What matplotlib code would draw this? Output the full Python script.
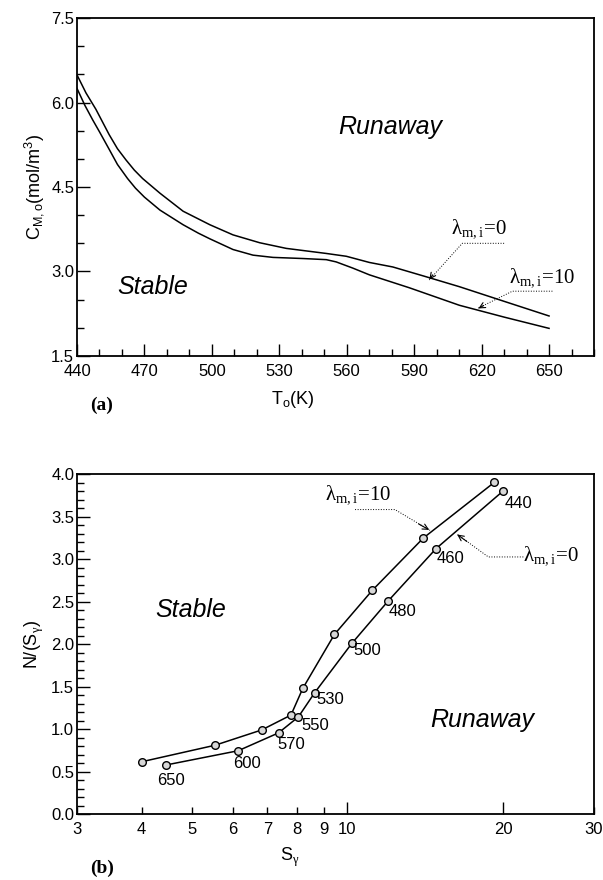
import matplotlib
matplotlib.use('Agg')
import matplotlib.pyplot as plt
import numpy as np
from matplotlib.ticker import MultipleLocator, FixedLocator, NullLocator, FormatStrFormatter

plt.rcParams['font.family'] = ['Liberation Sans', 'DejaVu Sans']
plt.rcParams['mathtext.fontset'] = 'custom'
plt.rcParams['mathtext.rm'] = 'Liberation Sans'
plt.rcParams['mathtext.it'] = 'Liberation Sans:italic'
plt.rcParams['mathtext.bf'] = 'Liberation Sans:bold'
plt.rcParams['mathtext.sf'] = 'Liberation Serif'
plt.rcParams['mathtext.default'] = 'rm'

# (a) critical monomer concentration vs feed temperature
T_lam0 = [440, 444, 448.4, 454.3, 458, 461.8, 465.5, 469.2, 476.9, 487.2, 499.1,
          509.4, 521.3, 533.1, 550.9, 559.8, 570.1, 580.5, 595, 610.1, 630, 650]
C_lam0 = [6.49, 6.17, 5.88, 5.43, 5.18, 4.98, 4.80, 4.65, 4.39, 4.07, 3.83,
          3.65, 3.51, 3.41, 3.32, 3.27, 3.16, 3.08, 2.91, 2.73, 2.47, 2.21]
T_lam10 = [440, 443.5, 447, 450, 454.3, 458, 462.5, 466, 470, 476.9, 487.2, 494,
           499.1, 509.4, 518.3, 527.2, 540.5, 550.9, 555.3, 562.7, 570.1,
           587.9, 610.1, 630, 650]
C_lam10 = [6.25, 5.95, 5.69, 5.48, 5.17, 4.90, 4.65, 4.48, 4.32, 4.09, 3.83, 3.68,
           3.58, 3.39, 3.29, 3.25, 3.23, 3.21, 3.17, 3.06, 2.94,
           2.71, 2.40, 2.19, 1.99]

# (b) N/(S_gamma) vs S_gamma
S_lam10 = [4.0, 5.55, 6.83, 7.78, 8.2, 9.44, 11.18, 14.03, 19.25]
N_lam10 = [0.615, 0.81, 0.99, 1.165, 1.479, 2.114, 2.635, 3.25, 3.906]
S_lam0 = [4.45, 6.15, 7.36, 8.04, 8.65, 10.2, 12.0, 14.85, 19.98]
N_lam0 = [0.576, 0.745, 0.955, 1.143, 1.43, 2.008, 2.51, 3.126, 3.80]
T_labels = ['650', '600', '570', '550', '530', '500', '480', '460', '440']
label_offsets = [(-8, -15), (-5, -13), (-1, -12), (3, -9), (2, -7),
                 (2, -7), (0, -11), (1, -10), (2, -12)]

fig = plt.figure(figsize=(6.03, 8.8), dpi=100)
ax1 = fig.add_axes([0.1277, 0.5955, 0.8574, 0.384])
ax2 = fig.add_axes([0.1277, 0.075, 0.8574, 0.386])

lam_font = dict(fontfamily='Liberation Serif', fontsize=15)

# ---- panel (a)
ax1.plot(T_lam0, C_lam0, color='black', lw=1.1)
ax1.plot(T_lam10, C_lam10, color='black', lw=1.1)
ax1.set_xlim(440, 670)
ax1.set_ylim(1.5, 7.5)
ax1.xaxis.set_major_locator(FixedLocator(np.arange(440, 671, 30)))
ax1.xaxis.set_minor_locator(FixedLocator(np.arange(440, 671, 10)))
ax1.yaxis.set_major_locator(MultipleLocator(1.5))
ax1.yaxis.set_minor_locator(MultipleLocator(0.5))
ax1.yaxis.set_major_formatter(FormatStrFormatter('%.1f'))
ax1.set_xlabel(r'T$_{\rm o}$(K)', fontsize=13)
ax1.xaxis.set_label_coords(0.418, -0.098)
ax1.set_ylabel(r'C$_{\rm M,o}$(mol/m$^3$)', fontsize=13, labelpad=4)

ax1.text(458, 2.73, 'Stable', style='italic', fontsize=18, va='center')
ax1.text(556, 5.57, 'Runaway', style='italic', fontsize=18, va='center')

ax1.text(606.4, 3.74, r'$\mathsf{\lambda}_{\mathsf{m,i}}$=0', va='center', **lam_font)
ax1.plot([630, 611.4, 596.5], [3.50, 3.50, 2.84], color='black', lw=0.7, ls=':')
ax1.annotate('', xy=(596, 2.82), xytext=(599, 2.98),
             arrowprops=dict(arrowstyle='->', lw=0.8, color='black'))
ax1.text(632.3, 2.88, r'$\mathsf{\lambda}_{\mathsf{m,i}}$=10', va='center', **lam_font)
ax1.plot([651.5, 633.7, 618], [2.65, 2.65, 2.34], color='black', lw=0.7, ls=':')
ax1.annotate('', xy=(617.5, 2.32), xytext=(622, 2.42),
             arrowprops=dict(arrowstyle='->', lw=0.8, color='black'))
fig.text(90 / 603, 1 - 405 / 880, '(a)', fontfamily='Liberation Serif',
         fontweight='bold', fontsize=14, va='center')

# ---- panel (b)
mk = dict(marker='o', ms=5.5, mfc='#d8d8d8', mec='black', mew=1.0)
ax2.plot(S_lam10, N_lam10, color='black', lw=1.1, **mk)
ax2.plot(S_lam0, N_lam0, color='black', lw=1.1, **mk)
for s, n, lab, off in zip(S_lam0, N_lam0, T_labels, label_offsets):
    ax2.annotate(lab, xy=(s, n), xytext=off, textcoords='offset pixels',
                 fontsize=12, ha='left', va='center')

ax2.set_xscale('log')
ax2.set_xlim(3, 30)
ax2.set_ylim(0, 4.0)
xt = [3, 4, 5, 6, 7, 8, 9, 10, 20, 30]
ax2.xaxis.set_major_locator(FixedLocator(xt))
ax2.xaxis.set_minor_locator(NullLocator())
ax2.set_xticklabels([str(v) for v in xt])
ax2.yaxis.set_major_locator(MultipleLocator(0.5))
ax2.yaxis.set_minor_locator(MultipleLocator(0.1))
ax2.yaxis.set_major_formatter(FormatStrFormatter('%.1f'))
ax2.set_xlabel(r'S$_{\mathsf{\gamma}}$', fontsize=13)
ax2.xaxis.set_label_coords(0.412, -0.095)
ax2.set_ylabel(r'N/(S$_{\mathsf{\gamma}}$)', fontsize=13, labelpad=4)

ax2.text(4.25, 2.4, 'Stable', style='italic', fontsize=18, va='center')
ax2.text(14.45, 1.106, 'Runaway', style='italic', fontsize=18, va='center')

ax2.text(9.05, 3.75, r'$\mathsf{\lambda}_{\mathsf{m,i}}$=10', va='center', **lam_font)
ax2.plot([10.35, 12.36, 14.45], [3.585, 3.585, 3.34], color='black', lw=0.7, ls=':')
ax2.annotate('', xy=(14.56, 3.33), xytext=(13.6, 3.43),
             arrowprops=dict(arrowstyle='->', lw=0.8, color='black'))
ax2.text(21.9, 3.03, r'$\mathsf{\lambda}_{\mathsf{m,i}}$=0', va='center', **lam_font)
ax2.plot([21.9, 18.74, 16.25], [3.027, 3.027, 3.30], color='black', lw=0.7, ls=':')
ax2.annotate('', xy=(16.15, 3.31), xytext=(17.2, 3.19),
             arrowprops=dict(arrowstyle='->', lw=0.8, color='black'))
fig.text(90 / 603, 1 - 868 / 880, '(b)', fontfamily='Liberation Serif',
         fontweight='bold', fontsize=14, va='center')

for ax in (ax1, ax2):
    for sp in ax.spines.values():
        sp.set_linewidth(1.3)
    ax.tick_params(which='both', direction='in', top=False, right=False,
                   labelsize=12, width=1.0)
    ax.tick_params(which='major', length=9)
    ax.tick_params(which='minor', length=5)
    ax.tick_params(axis='x', which='both', pad=6)
    ax.tick_params(axis='y', which='both', pad=2)

# short ticks at 4..9 on the log axis, long ones at 10 and 20
for tick, v in zip(ax2.xaxis.get_major_ticks(), xt):
    if v not in (10, 20):
        tick.tick1line.set_markersize(5)

fig.savefig('out.png', dpi=100)
